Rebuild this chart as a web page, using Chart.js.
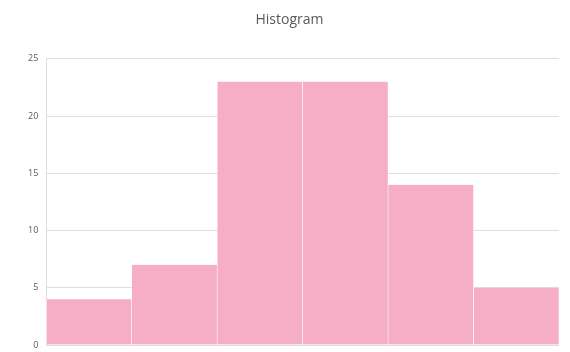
<!DOCTYPE html>
<html>
<head>
<meta charset="utf-8">
<script src="https://cdn.jsdelivr.net/npm/chart.js@4"></script>
<style>
  html, body { margin: 0; padding: 0; background: #fff; }
  #histChart { display: block; }
</style>
</head>
<body>
<canvas id="histChart" width="570" height="352"></canvas>
<script>
// Bin labels (not shown on the axis) and counts
const bins = ['1', '2', '3', '4', '5', '6'];
const counts = [4, 7, 23, 23, 14, 5];
const yTicks = [0, 5, 10, 15, 20, 25];

const histCanvas = document.getElementById('histChart');

const histChart = new Chart(histCanvas, {
  type: 'bar',
  data: {
    labels: bins,
    datasets: [{
      label: 'Count',
      data: counts,
      backgroundColor: 'rgb(245, 174, 197)',
      borderColor: '#ffffff',
      borderWidth: { left: 0.6, right: 0.6, top: 0, bottom: 0 },
      barPercentage: 1,
      categoryPercentage: 1
    }]
  },
  options: {
    responsive: false,
    animation: false,
    layout: { padding: { left: 20, right: 11, top: 0, bottom: 7 } },
    plugins: {
      legend: { display: false },
      tooltip: { enabled: false },
      title: {
        display: true,
        text: 'Histogram',
        color: '#595959',
        font: { family: 'Open Sans', size: 14, weight: 'normal' },
        padding: { top: 12, bottom: 30 }
      }
    },
    scales: {
      x: {
        display: false
      },
      y: {
        min: 0,
        max: 25,
        afterBuildTicks: axis => { axis.ticks = yTicks.map(v => ({ value: v })); },
        // let the "0" label hang below the plot like the original
        afterFit: axis => { axis.paddingBottom = 0; },
        grid: { color: '#dedede', drawTicks: false },
        border: { display: true, color: '#dedede' },
        ticks: {
          color: '#595959',
          padding: 8,
          font: { family: 'Open Sans', size: 9 }
        }
      }
    }
  }
});
</script>
</body>
</html>
